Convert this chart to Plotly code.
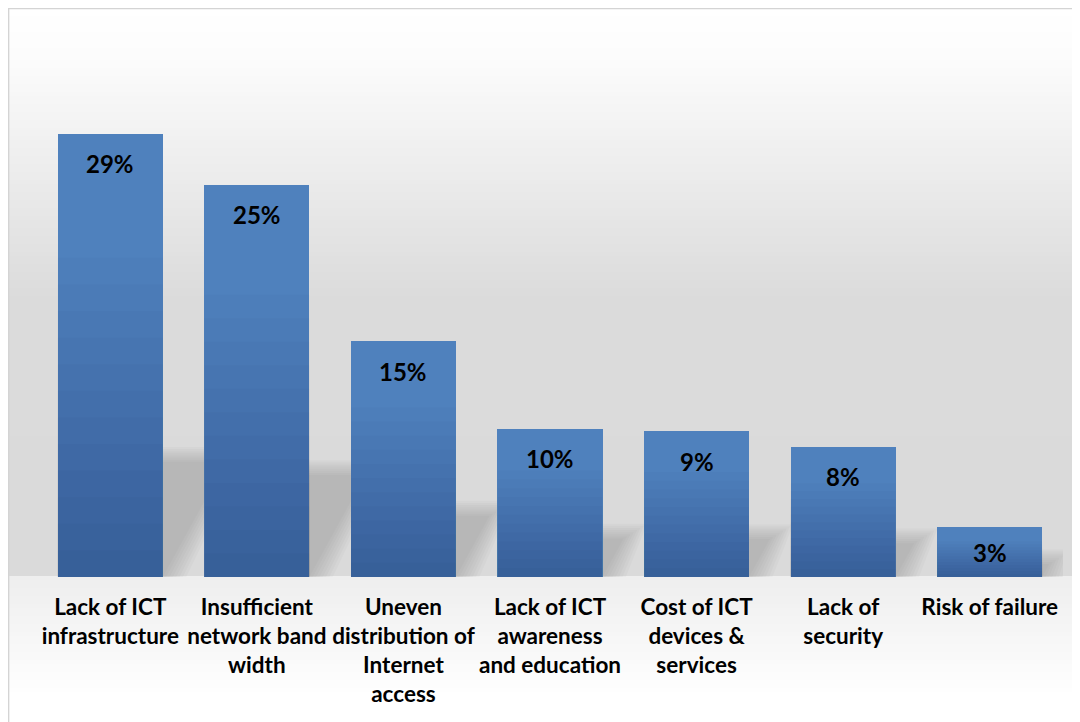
import plotly.graph_objects as go

categories = [
    "Lack of ICT<br>infrastructure",
    "Insufficient<br>network band<br>width",
    "Uneven<br>distribution of<br>Internet<br>access",
    "Lack of ICT<br>awareness<br>and education",
    "Cost of ICT<br>devices &<br>services",
    "Lack of<br>security",
    "Risk of failure",
]
values = [28.6, 25.3, 15.2, 9.55, 9.4, 8.4, 3.2]
labels = ["29%", "25%", "15%", "10%", "9%", "8%", "3%"]

W, H = 1080, 722
ML, MR, MT, MB = 29, 25, 12, 153
PW, PH = W - ML - MR, H - MT - MB
YMAX = 35.94
px_per_unit = PH / YMAX
BAR_W = 0.717
FONT = "Lato"

xs = list(range(len(categories)))
cat_px = PW / len(categories)

fig = go.Figure()

fig.add_trace(go.Bar(
    x=xs, y=values, width=BAR_W,
    marker=dict(color="#4f81bd", line=dict(width=0)),
    showlegend=False, hoverinfo="skip",
))

for x, v, t in zip(xs, values, labels):
    shift = -min(30, v * px_per_unit / 2)
    fig.add_annotation(x=x, y=v, text=f"<b>{t}</b>", showarrow=False,
                       yshift=shift, yanchor="middle",
                       font=dict(family=FONT, size=24, color="#000000"))

# background gradient (paper coordinates derived from pixel rows)
def lerp(c1, c2, t):
    return tuple(round(a + (b - a) * t) for a, b in zip(c1, c2))

base_px = H - MB
stops = [(0, (255, 255, 255)), (50, (252, 252, 252)), (290, (219, 219, 219)),
         (base_px, (218, 218, 218)), (base_px + 1, (238, 238, 238)),
         (base_px + 120, (255, 255, 255)), (H, (255, 255, 255))]
shapes = []
step = 4
for y0 in range(0, H, step):
    y1 = min(y0 + step, H)
    ym = (y0 + y1) / 2
    c = stops[-1][1]
    for (a, ca), (b, cb) in zip(stops[:-1], stops[1:]):
        if a <= ym <= b:
            c = lerp(ca, cb, (ym - a) / (b - a) if b > a else 0)
            break
    shapes.append(dict(
        type="rect", xref="paper", yref="paper", layer="below",
        x0=(0 - ML) / PW, x1=(W - ML) / PW,
        y0=(H - MB - y1) / PH, y1=(H - MB - y0) / PH,
        fillcolor=f"rgb{c}", line=dict(width=0),
    ))

# soft perspective shadows derived from bar heights (behind the bars)
n_soft = 8
for i in range(n_soft):
    spread = 0.16 * (n_soft - 1 - i) / (n_soft - 1)
    for x, v in zip(xs, values):
        h = v * 0.26
        dx = h * px_per_unit * 0.55 / cat_px
        xl, xr = x - BAR_W / 2, x + BAR_W / 2 + spread
        top = h + spread * 6
        path = (f"M {xl},0 L {xr},0 L {xr + dx},{top} "
                f"L {xl + dx},{top} Z")
        shapes.append(dict(type="path", xref="x", yref="y", layer="below",
                           path=path, fillcolor="rgba(0,0,0,0.021)",
                           line=dict(width=0)))

# vertical shading inside each bar (darker toward the base)
n_grad = 12
for x, v in zip(xs, values):
    for k in range(1, n_grad + 1):
        frac = 0.72 * k / n_grad
        shapes.append(dict(type="rect", xref="x", yref="y", layer="above",
                           x0=x - BAR_W / 2, x1=x + BAR_W / 2, y0=0, y1=v * frac,
                           fillcolor="rgba(10,25,60,0.02)", line=dict(width=0)))

shapes.append(dict(
    type="rect", xref="paper", yref="paper", layer="above",
    x0=(0.6 - ML) / PW, x1=(W + 5 - ML) / PW,
    y0=(H - MB - (H + 5)) / PH, y1=(H - MB - 0.6) / PH,
    line=dict(color="#d4d4d4", width=1.5), fillcolor="rgba(0,0,0,0)",
))

fig.update_layout(
    width=W, height=H,
    margin=dict(l=ML, r=MR, t=MT, b=MB, pad=0),
    paper_bgcolor="#ffffff", plot_bgcolor="rgba(0,0,0,0)",
    shapes=shapes, bargap=0,
    xaxis=dict(range=[-0.5, len(categories) - 0.5], tickmode="array",
               tickvals=xs, ticktext=[f"<b>{c}</b>" for c in categories],
               showgrid=False, zeroline=False, showline=False, ticks="",
               tickfont=dict(family=FONT, size=22.5, color="#000000"),
               tickangle=0, ticklabelstandoff=14),
    yaxis=dict(range=[0, YMAX], visible=False, showgrid=False, zeroline=False),
    font=dict(family=FONT),
)

fig.write_html("out.html")
